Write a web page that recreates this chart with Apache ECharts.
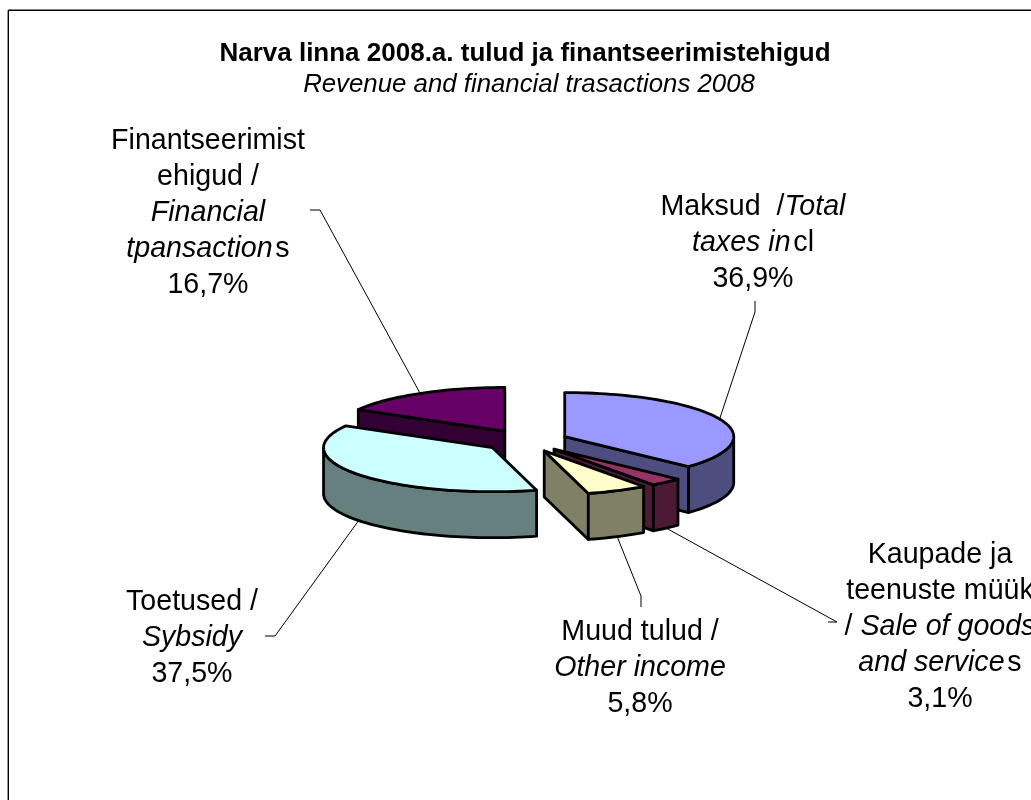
<!DOCTYPE html>
<html><head><meta charset="utf-8">
<style>html,body{margin:0;padding:0;background:#fff}#c{width:1031px;height:800px}</style>
<script src="https://cdn.jsdelivr.net/npm/echarts@6/dist/echarts.min.js"></script>
</head><body><div id="c"></div>
<script>
// --- data ---
const titleText = 'Narva linna 2008.a. tulud ja finantseerimistehigud';
const subtitleText = 'Revenue and financial trasactions 2008';
const categories = ['Maksud / Total taxes incl', 'Kaupade ja teenuste müük / Sale of goods and services', 'Muud tulud / Other income', 'Toetused / Sybsidy', 'Finantseerimistehigud / Financial tpansactions'];
const values = [36.9, 3.1, 5.8, 37.5, 16.7];
const labelLines = [
  ['{n|Maksud  /}{i|Total}', '{i|taxes in}{g| }{n|cl}'],
  ['{n|Kaupade ja}', '{n|teenuste müük}', '{n|/ }{i|Sale of goods}', '{i|and service}{g| }{n|s}'],
  ['{n|Muud tulud /}', '{i|Other income}'],
  ['{n|Toetused /}', '{i|Sybsidy}'],
  ['{n|Finantseerimist}', '{n|ehigud /}', '{i|Financial}', '{i|tpansaction}{g| }{n|s}']
];

// --- styles and layout ---
const topColors  = ['#9999FF', '#993366', '#FFFFCC', '#CCFFFF', '#660066'];
const sideColors = ['#4D4D80', '#4D1A33', '#808066', '#668080', '#330033'];
const drawRank   = [1, 2, 3, 4, 0];
const labelCentre = [[753, 243], [940, 627], [640, 668], [192, 638], [208, 213]];
const leaderElbows = [
  [[755, 301], [755, 312]],
  [[828, 622], [837, 622]],
  [[641, 607], [641, 596]],
  [[265, 636], [275, 636]],
  [[310, 210], [320, 210]]
];
const pie = { cx: 526, cy: 441, rx: 169, ry: 44, depth: 46, explode: 0.25 };
const FONT = '"Liberation Sans", Arial, sans-serif';
const LABEL_SIZE = 28.6, LINE_H = 36;

const total = values.reduce((a, b) => a + b, 0);
function rim(apex, deg, drop) {
  const r = deg * Math.PI / 180;
  return [apex[0] + pie.rx * Math.sin(r), apex[1] - pie.ry * Math.cos(r) + (drop || 0)];
}
function arc(apex, a0, a1, drop) {
  const pts = [], n = Math.max(2, Math.ceil((a1 - a0) / 2));
  for (let i = 0; i <= n; i++) pts.push(rim(apex, a0 + (a1 - a0) * i / n, drop));
  return pts;
}
function renderItem(params, api) {
  const i = params.dataIndex, v = api.value(0);
  let before = 0;
  for (let k = 0; k < i; k++) before += values[k];
  const a0 = before / total * 360, a1 = (before + v) / total * 360, mid = (a0 + a1) / 2;
  const mr = mid * Math.PI / 180;
  const apex = [pie.cx + pie.explode * pie.rx * Math.sin(mr), pie.cy - pie.explode * pie.ry * Math.cos(mr)];
  const base = (drawRank[i] + 1) * 10;
  const d = pie.depth;
  const kids = [];
  const face = (points, fill, z) => kids.push({
    type: 'polygon', z2: base + z, shape: { points },
    style: { fill, stroke: '#000', lineWidth: 2.8, lineJoin: 'round' }
  });
  const wall = (deg) => {
    const p = rim(apex, deg);
    face([apex, p, [p[0], p[1] + d], [apex[0], apex[1] + d]], sideColors[i], 1);
  };
  if (a0 > 180 && a0 < 360) wall(a0);
  if (a1 > 0 && a1 < 180) wall(a1);
  const w0 = Math.max(a0, 90), w1 = Math.min(a1, 270);
  if (w1 > w0) face(arc(apex, w0, w1).concat(arc(apex, w0, w1, d).reverse()), sideColors[i], 2);
  face([apex].concat(arc(apex, a0, a1)), topColors[i], 3);

  // leader line from the slice's mid-angle to the label
  const anchor = rim(apex, mid, Math.cos(mr) < 0 ? d : 0);
  const e = leaderElbows[i];
  kids.push({
    type: 'polyline', z2: 1, shape: { points: [e[0], e[1], anchor] },
    style: { fill: null, stroke: '#000', lineWidth: 1 }
  });
  const pct = v.toFixed(1).replace('.', ',') + '%';
  kids.push({
    type: 'text', z2: 200, x: labelCentre[i][0], y: labelCentre[i][1],
    style: {
      text: labelLines[i].concat('{n|' + pct + '}').join('\n'),
      align: 'center', verticalAlign: 'middle',
      rich: {
        n: { fontFamily: FONT, fontSize: LABEL_SIZE, lineHeight: LINE_H, fill: '#000' },
        i: { fontFamily: FONT, fontSize: LABEL_SIZE, lineHeight: LINE_H, fontStyle: 'italic', fill: '#000' },
        g: { fontFamily: FONT, fontSize: 10, lineHeight: LINE_H, fill: '#000' }
      }
    }
  });
  return { type: 'group', children: kids };
}

const chart = echarts.init(document.getElementById('c'), null, { renderer: 'canvas', width: 1031, height: 800 });
chart.setOption({
  animation: false,
  backgroundColor: '#fff',
  title: [
    { text: titleText, left: 525, top: 41, textAlign: 'center', padding: 0,
      textStyle: { fontFamily: FONT, fontSize: 26, fontWeight: 'bold', color: '#000' } },
    { text: subtitleText, left: 529, top: 72, textAlign: 'center', padding: 0,
      textStyle: { fontFamily: FONT, fontSize: 25.8, fontWeight: 'normal', fontStyle: 'italic', color: '#000' } }
  ],
  graphic: [
    { type: 'line', shape: { x1: 8.3, y1: 10.3, x2: 1031, y2: 10.3 }, style: { stroke: '#000', lineWidth: 1.4 } },
    { type: 'line', shape: { x1: 8.3, y1: 10.3, x2: 8.3, y2: 800 }, style: { stroke: '#000', lineWidth: 1.4 } }
  ],
  series: [{
    type: 'custom', coordinateSystem: 'none', silent: true,
    name: 'Narva 2008', renderItem,
    data: values.map((v, k) => ({ name: categories[k], value: [v] }))
  }]
});
</script></body></html>
